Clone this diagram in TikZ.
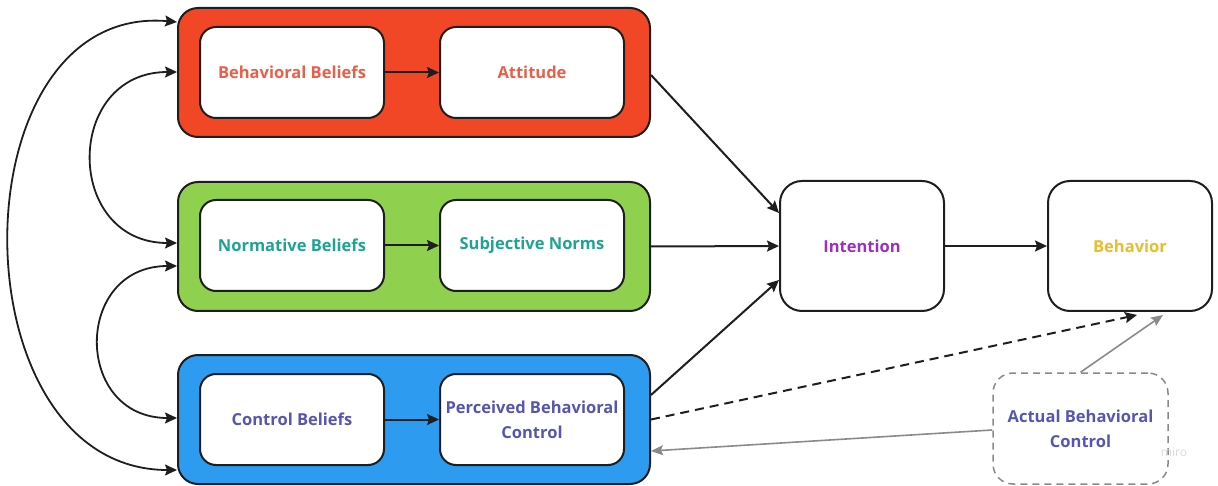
\documentclass[tikz,border=0pt]{standalone}
\usepackage{fontspec}
\setmainfont{Open Sans}
\usetikzlibrary{arrows.meta}
\definecolor{mred}{HTML}{F24726}
\definecolor{mgreen}{HTML}{8FD14F}
\definecolor{mblue}{HTML}{2D9BF0}
\definecolor{edge}{HTML}{1E1E1E}
\definecolor{tred}{HTML}{E8604A}
\definecolor{tteal}{HTML}{1EA394}
\definecolor{tslate}{HTML}{5556B4}
\definecolor{tpurple}{HTML}{9B2FC2}
\definecolor{tyellow}{HTML}{E9BE2E}
\definecolor{gline}{HTML}{8A8A8A}
\tikzset{
  lbl/.style={font=\bfseries\fontsize{16.5}{25}\selectfont, align=center},
  outerbox/.style={draw=edge, line width=2pt, rounded corners=20pt, minimum width=472pt, minimum height=129pt},
  innerbox/.style={lbl, draw=edge, fill=white, line width=2pt, rounded corners=16pt, minimum width=184pt, minimum height=91pt, inner sep=2pt},
  bigbox/.style={lbl, draw=edge, fill=white, line width=2pt, rounded corners=22pt, minimum width=164pt, minimum height=130pt},
  abcbox/.style={lbl, draw=gline, dash pattern=on 7pt off 5pt, line width=1.5pt, rounded corners=20pt, minimum width=175pt, minimum height=111pt, text=tslate},
  conn/.style={draw=edge, line width=2pt, -{Stealth[length=12pt,width=11pt,inset=2pt]}},
  biconn/.style={draw=edge, line width=1.8pt, {Stealth[length=12pt,width=11pt,inset=2pt]}-{Stealth[length=12pt,width=11pt,inset=2pt]}},
  dconn/.style={draw=edge, line width=2pt, dash pattern=on 9pt off 6pt, -{Stealth[length=12pt,width=11pt,inset=2pt]}},
  gconn/.style={draw=gline, line width=1.6pt, -{Stealth[length=12pt,width=10pt,inset=2pt]}},
}
\begin{document}
\begin{tikzpicture}[x=1pt,y=-1pt]
\useasboundingbox (0,0) rectangle (1218,486);
% group boxes
\node[outerbox, fill=mred] (red) at (414,72.5) {};
\node[outerbox, fill=mgreen] (green) at (414,246.5) {};
\node[outerbox, fill=mblue] (blue) at (414,419.5) {};
% inner boxes
\node[innerbox, text=tred] (bb) at (292,72.5) {Behavioral Beliefs};
\node[innerbox, text=tred] (att) at (532,72.5) {Attitude};
\node[innerbox, text=tteal] (nb) at (292,245.5) {Normative Beliefs};
\node[innerbox, text=tteal] (sn) at (532,245.5) {Subjective Norms};
\node[innerbox, text=tslate] (cb) at (292,419.5) {Control Beliefs};
\node[innerbox, text=tslate] (pbc) at (532,419.5) {Perceived Behavioral\\Control};
% right boxes
\node[bigbox, text=tpurple] (int) at (862,246) {Intention};
\node[bigbox, text=tyellow] (beh) at (1130,246) {Behavior};
\node[abcbox] (abc) at (1080.5,428.5) {Actual Behavioral\\Control};
\node[text=black!15, font=\fontsize{12}{14}\selectfont] (miro) at (1174,452) {miro};
% inner arrows
\draw[conn] (bb) -- (att);
\draw[conn] (nb) -- (sn);
\draw[conn] (cb) -- (pbc);
% to intention
\draw[conn] ([yshift=-2.5pt]red.east) -- ([yshift=33pt]int.west);
\draw[conn] (green.east) -- (int.west);
\draw[conn] ([yshift=24.5pt]blue.east) -- ([yshift=-34pt]int.west);
\draw[conn] (int) -- (beh);
% dashed and gray
\draw[dconn] (blue.east) -- ([xshift=7pt,yshift=-3pt]beh.south);
\draw[gconn] (abc.north) -- ([xshift=33pt,yshift=-3pt]beh.south);
\draw[gconn] ([yshift=-1.5pt]abc.west) -- ([yshift=-31.5pt]blue.east);
% left curves
\draw[biconn] ([yshift=50.5pt]red.west) to[out=175,in=180,looseness=1.28] ([yshift=-50.5pt]blue.west);
\draw[biconn] ([yshift=0.5pt]red.west) to[out=180,in=180,looseness=1.7] ([yshift=3.5pt]green.west);
\draw[biconn] ([yshift=-19.5pt]green.west) to[out=180,in=180,looseness=1.75] ([yshift=1.5pt]blue.west);
\end{tikzpicture}
\end{document}
